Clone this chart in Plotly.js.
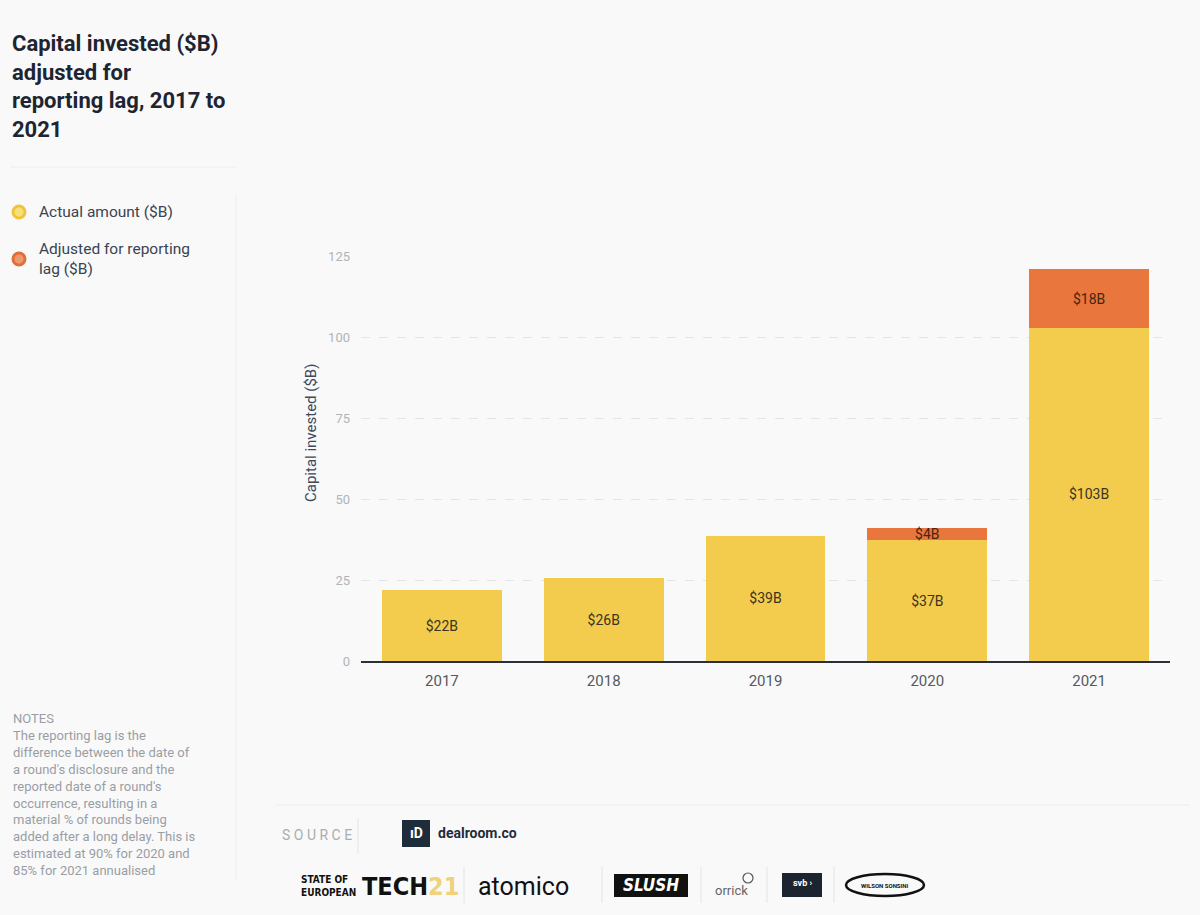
<!DOCTYPE html>
<html>
<head>
<meta charset="utf-8">
<script src="https://cdn.plot.ly/plotly-3.0.1.min.js"></script>
<style>
html,body{margin:0;padding:0;background:#f9f9fa;}
#chart{width:1200px;height:915px;}
</style>
</head>
<body>
<div id="chart"></div>
<script>
const years = ["2017", "2018", "2019", "2020", "2021"];
const actualAmount = [21.9, 25.6, 38.6, 37.3, 102.8];
const reportingLag = [null, null, null, 3.6, 18.1];
const yTicks = [0, 25, 50, 75, 100, 125];
const seriesNames = ["Actual amount ($B)", "Adjusted for reporting lag ($B)"];

const YELLOW = "#f3cc4e";
const ORANGE = "#e8763d";
const FONT = "Roboto, 'Noto Sans', sans-serif";

const labelText = arr => arr.map(v => v == null ? "" : "$" + Math.round(v) + "B");

const traces = [
  {
    type: "bar", x: years, y: actualAmount, name: seriesNames[0],
    marker: {color: YELLOW, line: {width: 0}},
    text: labelText(actualAmount), textposition: "inside", insidetextanchor: "middle",
    textfont: {family: FONT, size: 14, color: "#3b3420"}, hoverinfo: "x+y"
  },
  {
    type: "bar", x: years, y: reportingLag, name: seriesNames[1],
    marker: {color: ORANGE, line: {width: 0}},
    text: labelText(reportingLag), textposition: "inside", insidetextanchor: "middle",
    constraintext: "none",
    textfont: {family: FONT, size: 14, color: "#4a2410"}, hoverinfo: "x+y"
  }
];

function px(x){ return (x-361)/809; }
function py(y){ return (661-y)/405; }
const P = {xref: "paper", yref: "paper"};
function line(x0, y0, x1, y1, color){ return Object.assign({type: "line", x0: px(x0), x1: px(x1), y0: py(y0), y1: py(y1), line: {color: color, width: 1}}, P); }

const shapes = [
  line(10, 167, 237, 167, "#eceef0"),
  line(236, 195, 236, 880, "#eceef0"),
  Object.assign({type: "circle", x0: px(13), x1: px(25), y0: py(206), y1: py(218), fillcolor: "#f7e07a", line: {color: "#f0c33c", width: 3}}, P),
  Object.assign({type: "circle", x0: px(13), x1: px(25), y0: py(253), y1: py(265), fillcolor: "#ec9a72", line: {color: "#e07038", width: 3}}, P),
  line(275, 805, 1190, 805, "#eceef0"),
  line(358, 818, 358, 853, "#e2e4e6"),
  Object.assign({type: "rect", x0: px(402), x1: px(430), y0: py(820), y1: py(847), fillcolor: "#1f2d3a", line: {width: 0}}, P),
  line(464, 867, 464, 903, "#e2e4e6"),
  line(602, 867, 602, 903, "#e2e4e6"),
  line(701, 867, 701, 903, "#e2e4e6"),
  line(767, 867, 767, 903, "#e2e4e6"),
  line(834, 867, 834, 903, "#e2e4e6"),
  Object.assign({type: "rect", x0: px(614), x1: px(688), y0: py(874), y1: py(897), fillcolor: "#111", line: {width: 0}}, P),
  Object.assign({type: "rect", x0: px(782), x1: px(822), y0: py(873), y1: py(897), fillcolor: "#1c2430", line: {width: 0}}, P),
  Object.assign({type: "circle", x0: px(743), x1: px(753), y0: py(873), y1: py(883), line: {color: "#555", width: 1.2}}, P),
  Object.assign({type: "circle", x0: px(846), x1: px(924), y0: py(874), y1: py(896), line: {color: "#111", width: 2.5}}, P)
];

function ann(text, x, y, xa, ya, font, extra){
  return Object.assign({text: text, x: px(x), y: py(y), xanchor: xa, yanchor: ya, align: "left", font: font, showarrow: false}, P, extra || {});
}

const annotations = [
  ann("<b>Capital invested ($B)<br>adjusted for<br>reporting lag, 2017 to<br>2021</b>", 10, 29, "left", "top",
      {family: FONT, size: 22, color: "#1e2530"}),
  ann("Actual amount ($B)", 37, 212, "left", "middle", {family: FONT, size: 15.5, color: "#3b4450"}),
  ann("Adjusted for reporting<br>lag ($B)", 37, 238, "left", "top", {family: FONT, size: 15.5, color: "#3b4450"}),
  ann("NOTES<br>The reporting lag is the<br>difference between the date of<br>a round's disclosure and the<br>reported date of a round's<br>occurrence, resulting in a<br>material % of rounds being<br>added after a long delay. This is<br>estimated at 90% for 2020 and<br>85% for 2021 annualised",
      11, 709, "left", "top", {family: FONT, size: 13, color: "#9a9ea4"}),
  ann("Capital invested ($B)", 311, 433, "center", "middle", {family: FONT, size: 15, color: "#3c4a5c"}, {textangle: -90}),
  ann("S O U R C E", 280, 835, "left", "middle", {family: FONT, size: 14, color: "#a9adb2"}),
  ann("<b>ıD</b>", 416, 833, "center", "middle", {family: FONT, size: 14, color: "#ffffff"}),
  ann("<b>dealroom.co</b>", 436, 833, "left", "middle", {family: FONT, size: 14, color: "#1f2d3a"}),
  ann("<b>STATE OF<br>EUROPEAN</b>", 299, 886, "left", "middle", {family: "'Liberation Sans Narrow', 'DejaVu Sans Condensed', sans-serif", size: 10, color: "#111"}),
  ann("<b>TECH</b><b><span style='color:#f0d27a'>21</span></b>", 360, 886, "left", "middle", {family: "'DejaVu Sans Condensed', sans-serif", size: 25, color: "#111"}),
  ann("atomico", 476, 886, "left", "middle", {family: FONT, size: 25, color: "#111"}),
  ann("<b><i>SLUSH</i></b>", 651, 885, "center", "middle", {family: "'DejaVu Sans Condensed', sans-serif", size: 17, color: "#fff"}),
  ann("orrick", 731, 890, "center", "middle", {family: FONT, size: 13, color: "#666"}),
  ann("<b>svb ›</b>", 802, 883, "center", "middle", {family: FONT, size: 9, color: "#fff"}),
  ann("<b>WILSON SONSINI</b>", 885, 885, "center", "middle", {family: FONT, size: 6, color: "#111"})
];

const layout = {
  width: 1200, height: 915,
  paper_bgcolor: "#f9f9fa", plot_bgcolor: "#f9f9fa",
  margin: {l: 361, r: 30, t: 256, b: 254, pad: 0},
  barmode: "stack", bargap: 0.26,
  showlegend: false,
  font: {family: FONT, color: "#555"},
  xaxis: {
    type: "category", tickfont: {family: FONT, size: 15, color: "#555a60"},
    showgrid: false, showline: true, linecolor: "#2b2f36", linewidth: 1.5,
    ticks: "", ticklen: 0, zeroline: false, automargin: false, ticklabelstandoff: 5
  },
  yaxis: {
    range: [0, 125], tickvals: yTicks, ticktext: yTicks.map(String),
    tickfont: {family: FONT, size: 13, color: "#b0b4b8"},
    showgrid: true, gridcolor: "#e3e5e8", griddash: "dash", gridwidth: 1,
    zeroline: false, showline: false, ticks: "", ticklabelstandoff: 10,
    automargin: false
  },
  shapes: shapes,
  annotations: annotations
};

Plotly.newPlot("chart", traces, layout, {displayModeBar: false, staticPlot: true});
</script>
</body>
</html>
